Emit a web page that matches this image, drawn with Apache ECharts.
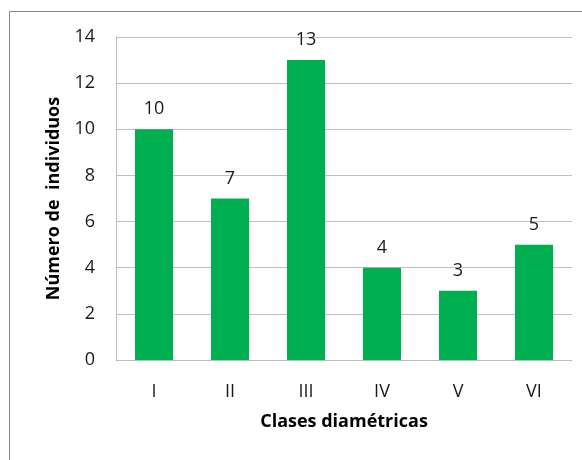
<!DOCTYPE html>
<html>
<head>
<meta charset="utf-8">
<script src="https://cdn.jsdelivr.net/npm/echarts@6/dist/echarts.min.js"></script>
<style>
html,body{margin:0;padding:0;background:#fff;}
#c{width:582px;height:460px;}
</style>
</head>
<body>
<div id="c"></div>
<script>
var categories = ['I', 'II', 'III', 'IV', 'V', 'VI'];
var individuos = [10, 7, 13, 4, 3, 5];
var yTicks = [0, 2, 4, 6, 8, 10, 12, 14];

var FONT = 'Open Sans';
var chart = echarts.init(document.getElementById('c'), null, {renderer: 'canvas'});
chart.setOption({
  animation: false,
  backgroundColor: '#ffffff',
  graphic: [{
    type: 'rect',
    shape: {x: 9.5, y: 11.5, width: 640, height: 520},
    style: {fill: 'none', stroke: '#868686', lineWidth: 1},
    silent: true
  }],
  grid: {left: 116, right: 10, top: 37, bottom: 100, containLabel: false},
  xAxis: {
    type: 'category',
    data: categories,
    name: 'Clases diamétricas',
    nameLocation: 'middle',
    nameGap: 53,
    nameTextStyle: {fontFamily: FONT, fontSize: 18, fontWeight: 'bold', color: '#000'},
    axisLine: {show: true, lineStyle: {color: '#BFBFBF', width: 1}},
    axisTick: {show: false},
    axisLabel: {fontFamily: FONT, fontSize: 18, color: '#1a1a1a', margin: 23},
    splitLine: {show: false}
  },
  yAxis: {
    type: 'value',
    min: yTicks[0],
    max: yTicks[yTicks.length - 1],
    interval: yTicks[1] - yTicks[0],
    name: 'Número de  individuos',
    nameLocation: 'middle',
    nameRotate: 90,
    nameGap: 53,
    nameTextStyle: {fontFamily: FONT, fontSize: 18, fontWeight: 'bold', color: '#000'},
    axisLine: {show: true, lineStyle: {color: '#BFBFBF', width: 1}},
    axisTick: {show: false},
    axisLabel: {fontFamily: FONT, fontSize: 18, color: '#1a1a1a', margin: 21},
    splitLine: {show: true, lineStyle: {color: '#BFBFBF', width: 1}}
  },
  series: [{
    type: 'bar',
    data: individuos,
    barWidth: '50%',
    itemStyle: {color: '#00B050'},
    label: {
      show: true,
      position: 'top',
      distance: 11,
      fontFamily: FONT,
      fontSize: 18,
      color: '#1a1a1a'
    }
  }]
});
</script>
</body>
</html>
